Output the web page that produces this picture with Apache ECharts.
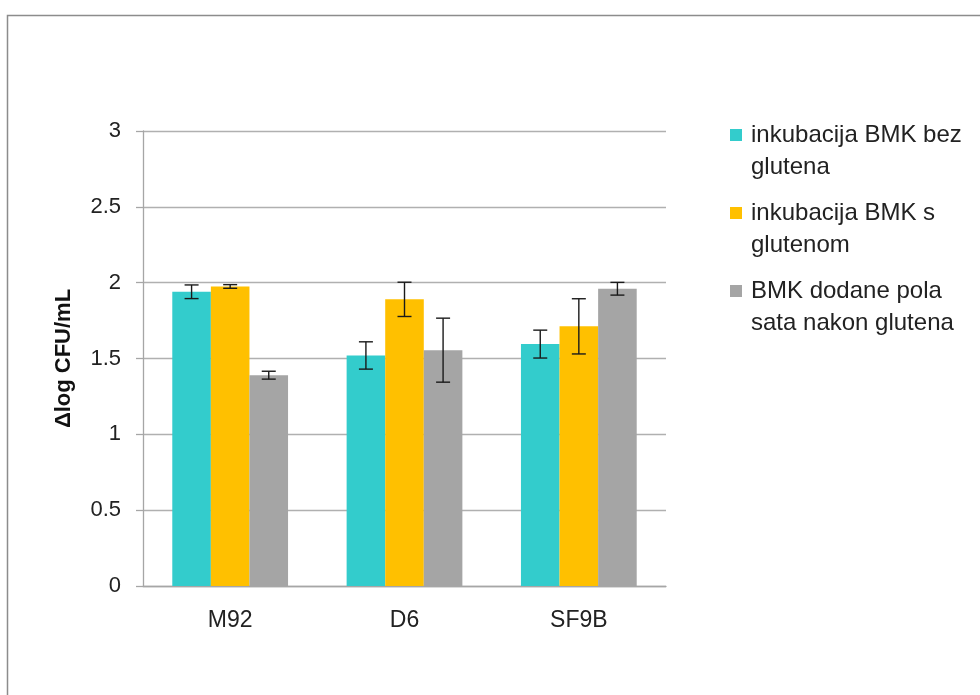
<!DOCTYPE html>
<html>
<head>
<meta charset="utf-8">
<script src="https://cdn.jsdelivr.net/npm/echarts@6/dist/echarts.min.js"></script>
<style>html,body{margin:0;padding:0;background:#fff}#c{width:980px;height:695px}</style>
</head>
<body>
<div id="c"></div>
<script>
const categories = ['M92', 'D6', 'SF9B'];
const seriesNames = ['inkubacija BMK bez glutena', 'inkubacija BMK s glutenom', 'BMK dodane pola sata nakon glutena'];
const legendLabels = ['inkubacija BMK bez\nglutena', 'inkubacija BMK s\nglutenom', 'BMK dodane pola\nsata nakon glutena'];
const bezGlutena = [1.94, 1.52, 1.595];
const sGlutenom = [1.975, 1.89, 1.712];
const nakonGlutena = [1.39, 1.555, 1.96];
const errBez = [0.045, 0.09, 0.092];
const errS = [0.012, 0.113, 0.182];
const errNakon = [0.026, 0.211, 0.042];
const yTicks = [0, 0.5, 1, 1.5, 2, 2.5, 3];
const colors = ['#33CCCC', '#FFC000', '#A5A5A5'];

const values = [bezGlutena, sGlutenom, nakonGlutena];
const errs = [errBez, errS, errNakon];
const catGap = 0.336;
const FONT = 'Liberation Sans, Arial, sans-serif';

const chart = echarts.init(document.getElementById('c'), null, {renderer: 'canvas'});

const barSeries = values.map((v, i) => ({
  name: seriesNames[i],
  type: 'bar',
  data: v,
  barGap: '0%',
  barCategoryGap: (catGap * 100) + '%',
  itemStyle: {color: colors[i]},
  emphasis: {disabled: true},
  silent: true
}));

const errSeries = values.map((v, i) => ({
  type: 'custom',
  name: 'err' + i,
  silent: true,
  z: 10,
  data: v.map((val, j) => [j, val - errs[i][j], val + errs[i][j]]),
  renderItem: function (params, api) {
    const band = api.size([1, 0])[0];
    const bw = band * (1 - catGap) / 3;
    const off = (i - 1) * bw;
    const lo = api.coord([api.value(0), api.value(1)]);
    const hi = api.coord([api.value(0), api.value(2)]);
    const x = lo[0] + off;
    const cap = 7;
    const st = {stroke: '#1a1a1a', lineWidth: 1.4};
    return {
      type: 'group',
      children: [
        {type: 'line', shape: {x1: x, y1: lo[1], x2: x, y2: hi[1]}, style: st},
        {type: 'line', shape: {x1: x - cap, y1: lo[1], x2: x + cap, y2: lo[1]}, style: st},
        {type: 'line', shape: {x1: x - cap, y1: hi[1], x2: x + cap, y2: hi[1]}, style: st}
      ]
    };
  }
}));

const option = {
  backgroundColor: '#fff',
  animation: false,
  graphic: [{
    type: 'rect',
    shape: {x: 7.5, y: 15.5, width: 1000, height: 720},
    style: {fill: 'none', stroke: '#8c8c8c', lineWidth: 1.5},
    silent: true
  }],
  grid: {left: 143, right: 314, top: 131, bottom: 109, containLabel: false},
  legend: {
    data: seriesNames,
    left: 730,
    top: 119,
    orient: 'vertical',
    padding: 0,
    itemGap: 14,
    itemWidth: 16,
    itemHeight: 44,
    icon: 'path://M0,0L12,0L12,12L0,12Z M16,44L16,44Z',
    selectedMode: false,
    formatter: function (name) { return legendLabels[seriesNames.indexOf(name)]; },
    textStyle: {fontFamily: FONT, fontSize: 24, lineHeight: 32, color: '#222'}
  },
  xAxis: {
    type: 'category',
    data: categories,
    axisLine: {lineStyle: {color: '#a6a6a6', width: 1.3}},
    axisTick: {show: false},
    axisLabel: {fontFamily: FONT, fontSize: 23, color: '#222', margin: 23}
  },
  yAxis: {
    type: 'value',
    min: yTicks[0],
    max: yTicks[yTicks.length - 1],
    interval: 0.5,
    name: 'Δlog CFU/mL',
    nameLocation: 'middle',
    nameGap: 68,
    nameRotate: 90,
    nameTextStyle: {fontFamily: FONT, fontSize: 22, fontWeight: 'bold', color: '#111'},
    axisLine: {show: true, lineStyle: {color: '#a6a6a6', width: 1.3}},
    axisTick: {show: true, inside: false, length: 7, lineStyle: {color: '#a6a6a6', width: 1.3}},
    splitLine: {lineStyle: {color: '#b0b0b0', width: 1.3}},
    axisLabel: {fontFamily: FONT, fontSize: 22, color: '#222', margin: 22,
      formatter: function (v) { return String(v); }}
  },
  series: barSeries.concat(errSeries)
};
chart.setOption(option);
</script>
</body>
</html>
